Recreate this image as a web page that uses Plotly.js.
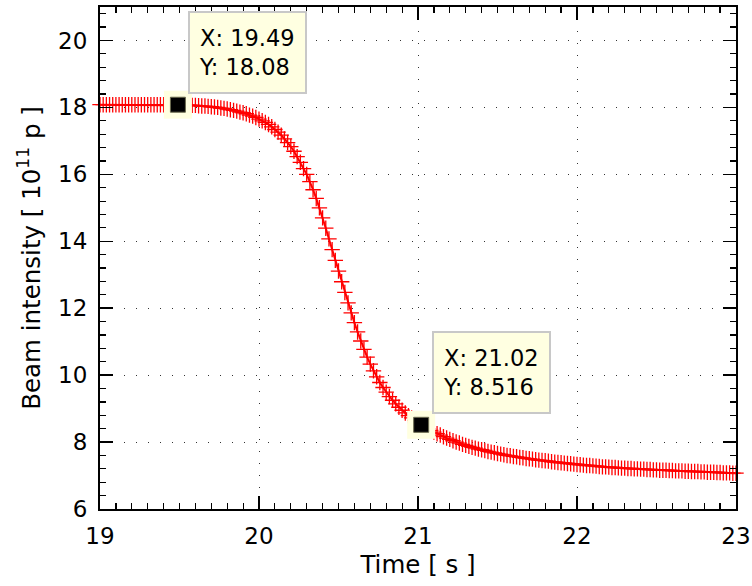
<!DOCTYPE html>
<html>
<head>
<meta charset="utf-8">
<script src="https://cdn.plot.ly/plotly-3.0.1.min.js"></script>
<style>html,body{margin:0;padding:0;background:#fff;}</style>
</head>
<body>
<div id="chart" style="width:752px;height:586px;"></div>
<script>
// Sampling of the beam intensity trace
const timeStart = 19.0;   // s
const timeStep = 0.02;    // s
// Beam intensity [1e11 p], one value every 0.02 s from 19.00 to 23.00
const intensity = [
  18.08,18.08,18.08,18.08,18.08,
  18.08,18.08,18.08,18.08,18.08,
  18.08,18.08,18.08,18.08,18.08,
  18.08,18.08,18.08,18.08,18.08,
  18.08,18.08,18.08,18.08,18.08,
  18.08,18.08,18.07,18.07,18.06,
  18.06,18.05,18.04,18.04,18.03,
  18.02,18.01,18.00,17.98,17.97,
  17.95,17.93,17.91,17.89,17.86,
  17.84,17.81,17.77,17.74,17.70,
  17.65,17.60,17.55,17.49,17.42,
  17.34,17.26,17.17,17.06,16.95,
  16.83,16.69,16.53,16.36,16.17,
  16.00,15.78,15.54,15.28,15.00,
  14.70,14.39,14.07,13.75,13.43,
  13.11,12.79,12.47,12.16,11.86,
  11.57,11.29,11.02,10.77,10.54,
  10.33,10.13,9.95,9.78,9.63,
  9.49,9.36,9.25,9.14,9.04,
  8.95,8.87,8.79,8.72,8.65,
  8.58,8.52,8.46,8.40,8.35,
  8.30,8.25,8.21,8.16,8.12,
  8.08,8.04,8.00,7.97,7.93,
  7.90,7.87,7.84,7.82,7.79,
  7.77,7.75,7.72,7.70,7.68,
  7.66,7.64,7.62,7.60,7.59,
  7.57,7.56,7.54,7.53,7.51,
  7.50,7.49,7.47,7.46,7.45,
  7.44,7.43,7.41,7.40,7.39,
  7.38,7.37,7.36,7.35,7.34,
  7.33,7.32,7.31,7.30,7.30,
  7.29,7.28,7.27,7.26,7.26,
  7.25,7.24,7.24,7.23,7.22,
  7.22,7.21,7.21,7.20,7.20,
  7.19,7.19,7.18,7.18,7.17,
  7.17,7.16,7.16,7.16,7.15,
  7.15,7.14,7.14,7.14,7.13,
  7.13,7.12,7.12,7.12,7.11,
  7.11,7.10,7.10,7.10,7.09,
  7.09,7.08,7.08,7.08,7.07,
  7.07
];
// Data tips
const tipX = [19.49, 21.02];
const tipY = [18.08, 8.516];
const tipLabelX = ["19.49", "21.02"];
const tipLabelY = ["18.08", "8.516"];

const FONT = "DejaVu Sans, Liberation Sans, Arial, sans-serif";

const traces = [
  {
    type: "scatter", mode: "lines+markers",
    x0: timeStart, dx: timeStep, y: intensity,
    line: {color: "#ff0000", width: 2},
    marker: {symbol: "cross-thin", size: 11, color: "#ff0000", line: {color: "#ff0000", width: 1.3}},
    cliponaxis: false, hoverinfo: "skip", showlegend: false
  },
  {
    type: "scatter", mode: "markers", x: tipX, y: tipY,
    marker: {symbol: "square", size: 28, color: "#ffffe0", line: {width: 0}},
    cliponaxis: false, hoverinfo: "skip", showlegend: false
  },
  {
    type: "scatter", mode: "markers", x: tipX, y: tipY,
    marker: {symbol: "square", size: 15, color: "#000000", line: {color: "#6b6b50", width: 1}},
    cliponaxis: false, hoverinfo: "skip", showlegend: false
  }
];

const annotations = tipX.map((x, i) => ({
  x: x, y: tipY[i], xref: "x", yref: "y",
  text: "X: " + tipLabelX[i] + "<br>Y: " + tipLabelY[i],
  showarrow: false, xshift: 70, yshift: 52,
  align: "left", width: 97, height: 61, borderpad: 9,
  bgcolor: "#ffffe1", bordercolor: "#c8c8c8", borderwidth: 2,
  font: {family: FONT, size: 22.5, color: "#000"}
}));

const axisCommon = {
  showline: true, linecolor: "#000", linewidth: 2,
  ticks: "inside", tickcolor: "#000", tickwidth: 1.5, ticklen: 13,
  mirror: "allticks", zeroline: false,
  showgrid: true, gridcolor: "#333", gridwidth: 1, griddash: "1px,11px",
  tickfont: {family: FONT, size: 23, color: "#000"}
};

const layout = {
  width: 752, height: 586,
  margin: {l: 100, r: 16, t: 7, b: 77},
  paper_bgcolor: "#fff", plot_bgcolor: "#fff",
  showlegend: false,
  font: {family: FONT, color: "#000"},
  xaxis: Object.assign({}, axisCommon, {
    range: [19, 23], tick0: 19, dtick: 1,
    ticklabelstandoff: 5,
    minor: {dtick: 0.1, tick0: 19, ticks: "inside", ticklen: 6, tickwidth: 1.2, tickcolor: "#000", showgrid: false},
    title: {text: "Time [ s ]", font: {family: FONT, size: 24.5, color: "#000"}, standoff: 8}
  }),
  yaxis: Object.assign({}, axisCommon, {
    range: [6, 21], tick0: 6, dtick: 2,
    ticklabelstandoff: 6,
    minor: {dtick: 0.4, tick0: 6, ticks: "inside", ticklen: 6, tickwidth: 1.2, tickcolor: "#000", showgrid: false},
    title: {text: "Beam intensity [ 10<sup>11</sup> p ]", font: {family: FONT, size: 24.5, color: "#000"}, standoff: 11}
  }),
  annotations: annotations
};

Plotly.newPlot("chart", traces, layout, {staticPlot: true, displayModeBar: false});
</script>
</body>
</html>
